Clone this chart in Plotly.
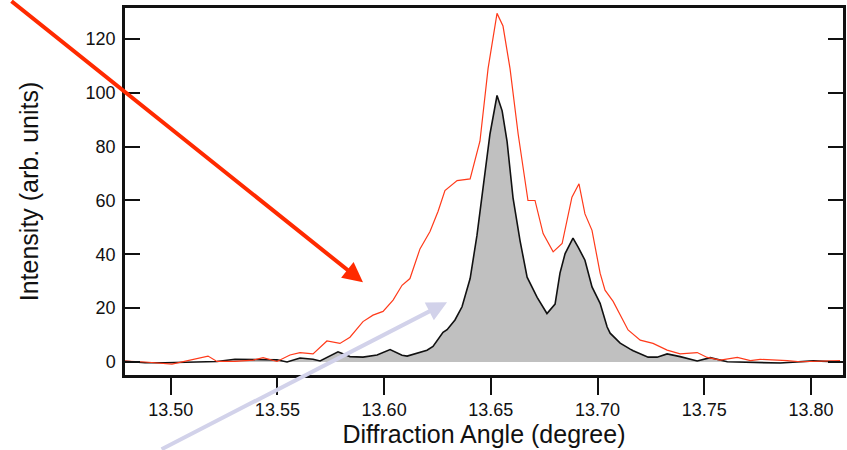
import plotly.graph_objects as go

# Black (filled) spectrum
angle_black = [13.4786, 13.4880, 13.4973, 13.5081, 13.5217, 13.5301, 13.5433, 13.5498, 13.5545,
               13.5606, 13.5667, 13.5700, 13.5784, 13.5840, 13.5901, 13.5934, 13.5967, 13.6028,
               13.6084, 13.6108, 13.6168, 13.6201, 13.6229, 13.6276, 13.6295, 13.6332, 13.6365,
               13.6393, 13.6403, 13.6435, 13.6463, 13.6496, 13.6529, 13.6553, 13.6576, 13.6604,
               13.6637, 13.6670, 13.6717, 13.6763, 13.6801, 13.6824, 13.6848, 13.6885, 13.6909,
               13.6941, 13.6974, 13.7012, 13.7045, 13.7059, 13.7092, 13.7106, 13.7153, 13.7167,
               13.7237, 13.7279, 13.7326, 13.7387, 13.7467, 13.7528, 13.7608, 13.7716, 13.7856,
               13.8011, 13.8150]
intensity_black = [0.3, -0.3, -0.3, 0.0, 0.2, 1.0, 1.0, 0.8, 0.0,
                   1.5, 1.0, 0.4, 3.8, 2.0, 1.8, 2.2, 2.6, 4.6,
                   2.5, 2.2, 3.8, 4.4, 5.8, 11.0, 12.0, 15.6, 20.5,
                   29.0, 31.0, 47.0, 63.5, 84.7, 99.0, 93.3, 82.0, 61.0,
                   45.0, 31.5, 24.0, 18.0, 21.5, 33.0, 40.3, 46.0, 42.7,
                   37.8, 27.9, 21.8, 13.0, 10.7, 8.1, 7.0, 4.8, 4.2,
                   1.8, 1.8, 3.0, 2.0, 0.4, 1.6, 0.1, -0.2, -0.4,
                   0.4, 0.0]

# Red spectrum
angle_red = [13.4786, 13.4880, 13.5006, 13.5081, 13.5175, 13.5217, 13.5301, 13.5386, 13.5433,
             13.5498, 13.5559, 13.5606, 13.5667, 13.5732, 13.5793, 13.5840, 13.5901, 13.5948,
             13.5995, 13.6042, 13.6084, 13.6121, 13.6168, 13.6215, 13.6253, 13.6285, 13.6342,
             13.6403, 13.6426, 13.6449, 13.6487, 13.6529, 13.6557, 13.6590, 13.6628, 13.6674,
             13.6707, 13.6745, 13.6792, 13.6834, 13.6880, 13.6913, 13.6941, 13.6974, 13.7012,
             13.7035, 13.7073, 13.7143, 13.7200, 13.7260, 13.7326, 13.7387, 13.7467, 13.7514,
             13.7575, 13.7655, 13.7716, 13.7762, 13.7889, 13.7950, 13.8136]
intensity_red = [0.3, 0.0, -0.8, 0.5, 2.2, 0.2, 0.2, 0.7, 1.6,
                 0.2, 2.6, 3.5, 3.0, 7.8, 6.9, 9.2, 15.0, 17.4,
                 18.8, 23.0, 28.5, 31.0, 42.0, 48.5, 56.0, 63.7, 67.4,
                 68.0, 74.8, 82.0, 109.0, 129.5, 124.8, 109.0, 84.7, 60.0,
                 60.0, 47.7, 40.9, 44.0, 61.2, 66.2, 55.0, 48.9, 33.0,
                 26.7, 22.5, 11.9, 8.1, 6.9, 4.4, 3.0, 3.5, 1.7,
                 0.7, 1.7, 0.5, 1.0, 0.5, 0.1, 0.5]

x_ticks = [13.50, 13.55, 13.60, 13.65, 13.70, 13.75, 13.80]
x_tick_labels = ["13.50", "13.55", "13.60", "13.65", "13.70", "13.75", "13.80"]
y_ticks = [0, 20, 40, 60, 80, 100, 120]

fig = go.Figure()
fig.add_trace(go.Scatter(x=angle_black, y=intensity_black, mode="lines",
                         line=dict(color="#111111", width=1.6),
                         fill="tozeroy", fillcolor="#c0c0c0", showlegend=False))
fig.add_trace(go.Scatter(x=angle_red, y=intensity_red, mode="lines",
                         line=dict(color="#ff3a1a", width=1.2), showlegend=False))

# arrows
fig.add_annotation(x=13.5901, y=29.6, xref="x", yref="y", text="", showarrow=True,
                   ax=-353, ay=-284, axref="pixel", ayref="pixel",
                   arrowhead=2, arrowsize=1.0, arrowwidth=4, arrowcolor="#ff2a00")
fig.add_annotation(x=13.6295, y=22.2, xref="x", yref="y", text="", showarrow=True,
                   ax=-287, ay=148, axref="pixel", ayref="pixel",
                   arrowhead=2, arrowsize=1.0, arrowwidth=4, arrowcolor="#d2d2ea")

fig.update_layout(
    width=847, height=450,
    margin=dict(l=125, r=4, t=8, b=75, autoexpand=False),
    paper_bgcolor="white", plot_bgcolor="white",
    font=dict(family="Liberation Sans, Arial, sans-serif", color="#111111"),
    xaxis=dict(range=[13.4786, 13.8150], tickvals=x_ticks, ticktext=x_tick_labels,
               ticks="outside", ticklen=17, tickwidth=1.5, tickcolor="#111111",
               showline=True, linewidth=2.5, linecolor="#111111", mirror=True,
               showgrid=False, zeroline=False, tickfont=dict(size=18),
               title=dict(text="Diffraction Angle (degree)", font=dict(size=25), standoff=0)),
    yaxis=dict(range=[-4.83, 131.5], tickvals=y_ticks,
               ticks="inside", ticklen=15, tickwidth=1.5, tickcolor="#111111",
               showline=True, linewidth=2.5, linecolor="#111111", mirror="ticks",
               showgrid=False, zeroline=False, tickfont=dict(size=18),
               ticklabelstandoff=3,
               title=dict(text="Intensity (arb. units)", font=dict(size=25), standoff=40)),
)

fig.write_html("out.html", config={"displayModeBar": False},
               post_script="document.body.style.margin='0';")
